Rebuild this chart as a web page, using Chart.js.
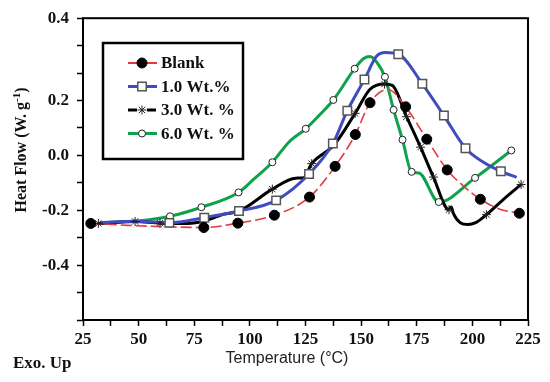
<!DOCTYPE html>
<html>
<head>
<meta charset="utf-8">
<script src="https://cdn.jsdelivr.net/npm/chart.js@4.4.1/dist/chart.umd.min.js"></script>
<style>
  html, body { margin: 0; padding: 0; background: #fff; }
</style>
</head>
<body>
<canvas id="myChart" width="550" height="382"></canvas>
<script>
// series labels
var seriesNames = ["Blank", "1.0 Wt.%", "3.0 Wt. %", "6.0 Wt. %"];

// Blank: marker points and extra points along the curve
var blankX = [28.5, 79.3, 94.6, 111, 126.8, 138.3, 147.4, 154, 170, 179.5, 188.7, 203.6, 221.1];
var blankY = [-0.248, -0.263, -0.247, -0.218, -0.152, -0.04, 0.076, 0.192, 0.177, 0.059, -0.053, -0.16, -0.211];
var blankTraceX = [45, 62, 162, 196, 212];
var blankTraceY = [-0.255, -0.26, 0.24, -0.112, -0.195];

// 1.0 Wt.%
var wt1X = [63.8, 79.5, 95.1, 111.8, 126.6, 137.3, 143.8, 151.5, 166.7, 177.5, 187.2, 196.9, 212.8];
var wt1Y = [-0.246, -0.227, -0.203, -0.164, -0.068, 0.043, 0.163, 0.277, 0.369, 0.261, 0.145, 0.026, -0.058];
var wt1TraceX = [33, 48.5, 157, 161, 205, 219.9];
var wt1TraceY = [-0.245, -0.24, 0.362, 0.375, -0.025, -0.08];

// 3.0 Wt. %
var wt3X = [31.9, 48.4, 59.6, 110.1, 127.8, 147.3, 160.5, 170.4, 176.7, 182.5, 189.5, 206.3, 221.9];
var wt3Y = [-0.248, -0.241, -0.247, -0.123, -0.03, 0.153, 0.26, 0.141, 0.03, -0.079, -0.198, -0.216, -0.106];
var wt3TraceX = [72, 80, 88, 95.2, 120.6, 124, 138, 154, 164, 190.5, 191.5, 194.5, 198, 201.5, 214];
var wt3TraceY = [-0.248, -0.238, -0.215, -0.203, -0.083, -0.082, 0.04, 0.241, 0.255, -0.188, -0.212, -0.245, -0.252, -0.245, -0.16];

// 6.0 Wt. %
var wt6X = [64.1, 78.2, 94.9, 110.1, 125.1, 137.5, 147.1, 160.7, 164.6, 168.6, 172.7, 184.9, 201.2, 217.5];
var wt6Y = [-0.222, -0.189, -0.135, -0.025, 0.097, 0.202, 0.316, 0.286, 0.166, 0.057, -0.06, -0.17, -0.082, 0.018];
var wt6TraceX = [33, 48.5, 102, 117.5, 131, 151, 154, 157, 176];
var wt6TraceY = [-0.245, -0.24, -0.085, 0.048, 0.145, 0.352, 0.36, 0.34, -0.064];

// axis ticks
var xTickValues = [25, 50, 75, 100, 125, 150, 175, 200, 225];
var yTickValues = [-0.4, -0.2, 0.0, 0.2, 0.5];
var yTickText = ["-0.4", "-0.2", "0.0", "0.2", "0.4"];

var colors = ["#e23b3f", "#3f4cc0", "#000000", "#0ea24c"];
var serif = "'Liberation Serif', 'Times New Roman', serif";

function toPoints(xs, ys) {
    return xs.map(function (x, i) { return { x: x, y: ys[i] }; });
}
function curve(xs, ys, tx, ty) {
    return toPoints(xs, ys).concat(toPoints(tx, ty)).sort(function (a, b) { return a.x - b.x; });
}

var markerStyles = [
    { pointStyle: 'circle', radius: 5, bg: '#000', border: '#000', bw: 1 },
    { pointStyle: 'rect', radius: 6, bg: '#fff', border: '#555', bw: 1.5 },
    { pointStyle: 'star', radius: 4.5, bg: '#000', border: '#222', bw: 1 },
    { pointStyle: 'circle', radius: 3.5, bg: '#fff', border: '#222', bw: 1 }
];
var lineWidths = [1.6, 3, 3, 3];
var dashes = [[11, 4], [], [], []];

var curves = [
    curve(blankX, blankY, blankTraceX, blankTraceY),
    curve(wt1X, wt1Y, wt1TraceX, wt1TraceY),
    curve(wt3X, wt3Y, wt3TraceX, wt3TraceY),
    curve(wt6X, wt6Y, wt6TraceX, wt6TraceY)
];
var markers = [
    toPoints(blankX, blankY),
    toPoints(wt1X, wt1Y),
    toPoints(wt3X, wt3Y),
    toPoints(wt6X, wt6Y)
];

var datasets = [];
for (var i = 0; i < 4; i++) {
    datasets.push({
        label: seriesNames[i],
        data: curves[i],
        borderColor: colors[i],
        borderWidth: lineWidths[i],
        borderDash: dashes[i],
        pointRadius: 0,
        fill: false,
        cubicInterpolationMode: 'monotone',
        order: 1
    });
}
for (var j = 0; j < 4; j++) {
    var m = markerStyles[j];
    datasets.push({
        label: seriesNames[j] + ' markers',
        data: markers[j],
        showLine: false,
        pointStyle: m.pointStyle,
        pointRadius: m.radius,
        pointBackgroundColor: m.bg,
        pointBorderColor: m.border,
        pointBorderWidth: m.bw,
        order: 0
    });
}

// frame, legend box and titles
var decorations = {
    id: 'decorations',
    afterDraw: function (chart) {
        var ctx = chart.ctx;
        var a = chart.chartArea;
        ctx.save();
        ctx.strokeStyle = '#000';
        ctx.lineWidth = 2;
        ctx.strokeRect(a.left, a.top, a.right - a.left, a.bottom - a.top);

        // legend
        ctx.lineWidth = 2.5;
        ctx.strokeRect(103, 43, 140, 116);
        var rowsY = [63, 86.5, 110, 133.5];
        for (var k = 0; k < 4; k++) {
            var y = rowsY[k];
            ctx.strokeStyle = colors[k];
            ctx.lineWidth = k === 0 ? 2 : 3;
            ctx.setLineDash([]);
            if (k === 2) {
                ctx.beginPath();
                ctx.moveTo(128, y); ctx.lineTo(137, y);
                ctx.moveTo(147, y); ctx.lineTo(156, y);
                ctx.stroke();
            } else {
                ctx.beginPath();
                ctx.moveTo(128, y); ctx.lineTo(157, y);
                ctx.stroke();
            }
            var s = markerStyles[k];
            ctx.fillStyle = s.bg;
            ctx.strokeStyle = s.border;
            ctx.lineWidth = s.bw;
            Chart.helpers.drawPoint(ctx, { pointStyle: s.pointStyle, radius: s.radius, rotation: 0, borderWidth: s.bw }, 142, y);
            ctx.fillStyle = '#111';
            ctx.font = 'bold 17px ' + serif;
            ctx.textAlign = 'left';
            ctx.textBaseline = 'middle';
            ctx.fillText(seriesNames[k], 161, y + 1);
        }

        // x title
        ctx.fillStyle = '#222';
        ctx.font = '16px "Liberation Sans", Arial, sans-serif';
        ctx.textAlign = 'center';
        ctx.textBaseline = 'middle';
        ctx.fillText('Temperature (\u00B0C)', 287, 359);

        // exo up note
        ctx.fillStyle = '#111';
        ctx.font = 'bold 17px ' + serif;
        ctx.textAlign = 'left';
        ctx.fillText('Exo. Up', 13, 364);

        // y title with superscript
        ctx.translate(22, 150);
        ctx.rotate(-Math.PI / 2);
        var main = 'Heat Flow (W. g';
        ctx.font = 'bold 16px ' + serif;
        var w1 = ctx.measureText(main).width;
        ctx.font = 'bold 11px ' + serif;
        var w2 = ctx.measureText('-1').width;
        ctx.font = 'bold 16px ' + serif;
        var w3 = ctx.measureText(')').width;
        var start = -(w1 + w2 + w3) / 2;
        ctx.textAlign = 'left';
        ctx.fillText(main, start, 0);
        ctx.font = 'bold 11px ' + serif;
        ctx.fillText('-1', start + w1, -5);
        ctx.font = 'bold 16px ' + serif;
        ctx.fillText(')', start + w1 + w2, 0);
        ctx.restore();
    }
};

var ctx = document.getElementById('myChart').getContext('2d');
var chart = new Chart(ctx, {
    type: 'line',
    data: { datasets: datasets },
    options: {
        responsive: false,
        animation: false,
        layout: { padding: { left: 0, right: 22, top: 16, bottom: 0 } },
        plugins: {
            legend: { display: false },
            tooltip: { enabled: false }
        },
        scales: {
            x: {
                type: 'linear',
                min: 25,
                max: 225,
                afterFit: function (scale) { scale.height = 62; },
                border: { display: false },
                grid: { drawOnChartArea: false, drawTicks: true, tickLength: 6, tickColor: '#000', tickWidth: 1.5 },
                ticks: {
                    stepSize: 12.5,
                    autoSkip: false,
                    maxRotation: 0,
                    padding: 3,
                    color: '#111',
                    font: { family: serif, size: 17, weight: 'bold' },
                    callback: function (v) {
                        return xTickValues.indexOf(v) >= 0 ? String(v) : '';
                    }
                }
            },
            y: {
                type: 'linear',
                min: -0.6,
                max: 0.5,
                afterFit: function (scale) { scale.width = 83; },
                border: { display: false },
                grid: { drawOnChartArea: false, drawTicks: true, tickLength: 6, tickColor: '#000', tickWidth: 1.5 },
                ticks: {
                    stepSize: 0.1,
                    autoSkip: false,
                    padding: 8,
                    color: '#111',
                    font: { family: serif, size: 17, weight: 'bold' },
                    callback: function (v) {
                        for (var n = 0; n < yTickValues.length; n++) {
                            if (Math.abs(yTickValues[n] - v) < 1e-6) return yTickText[n];
                        }
                        return '';
                    }
                }
            }
        }
    },
    plugins: [decorations]
});
</script>
</body>
</html>
